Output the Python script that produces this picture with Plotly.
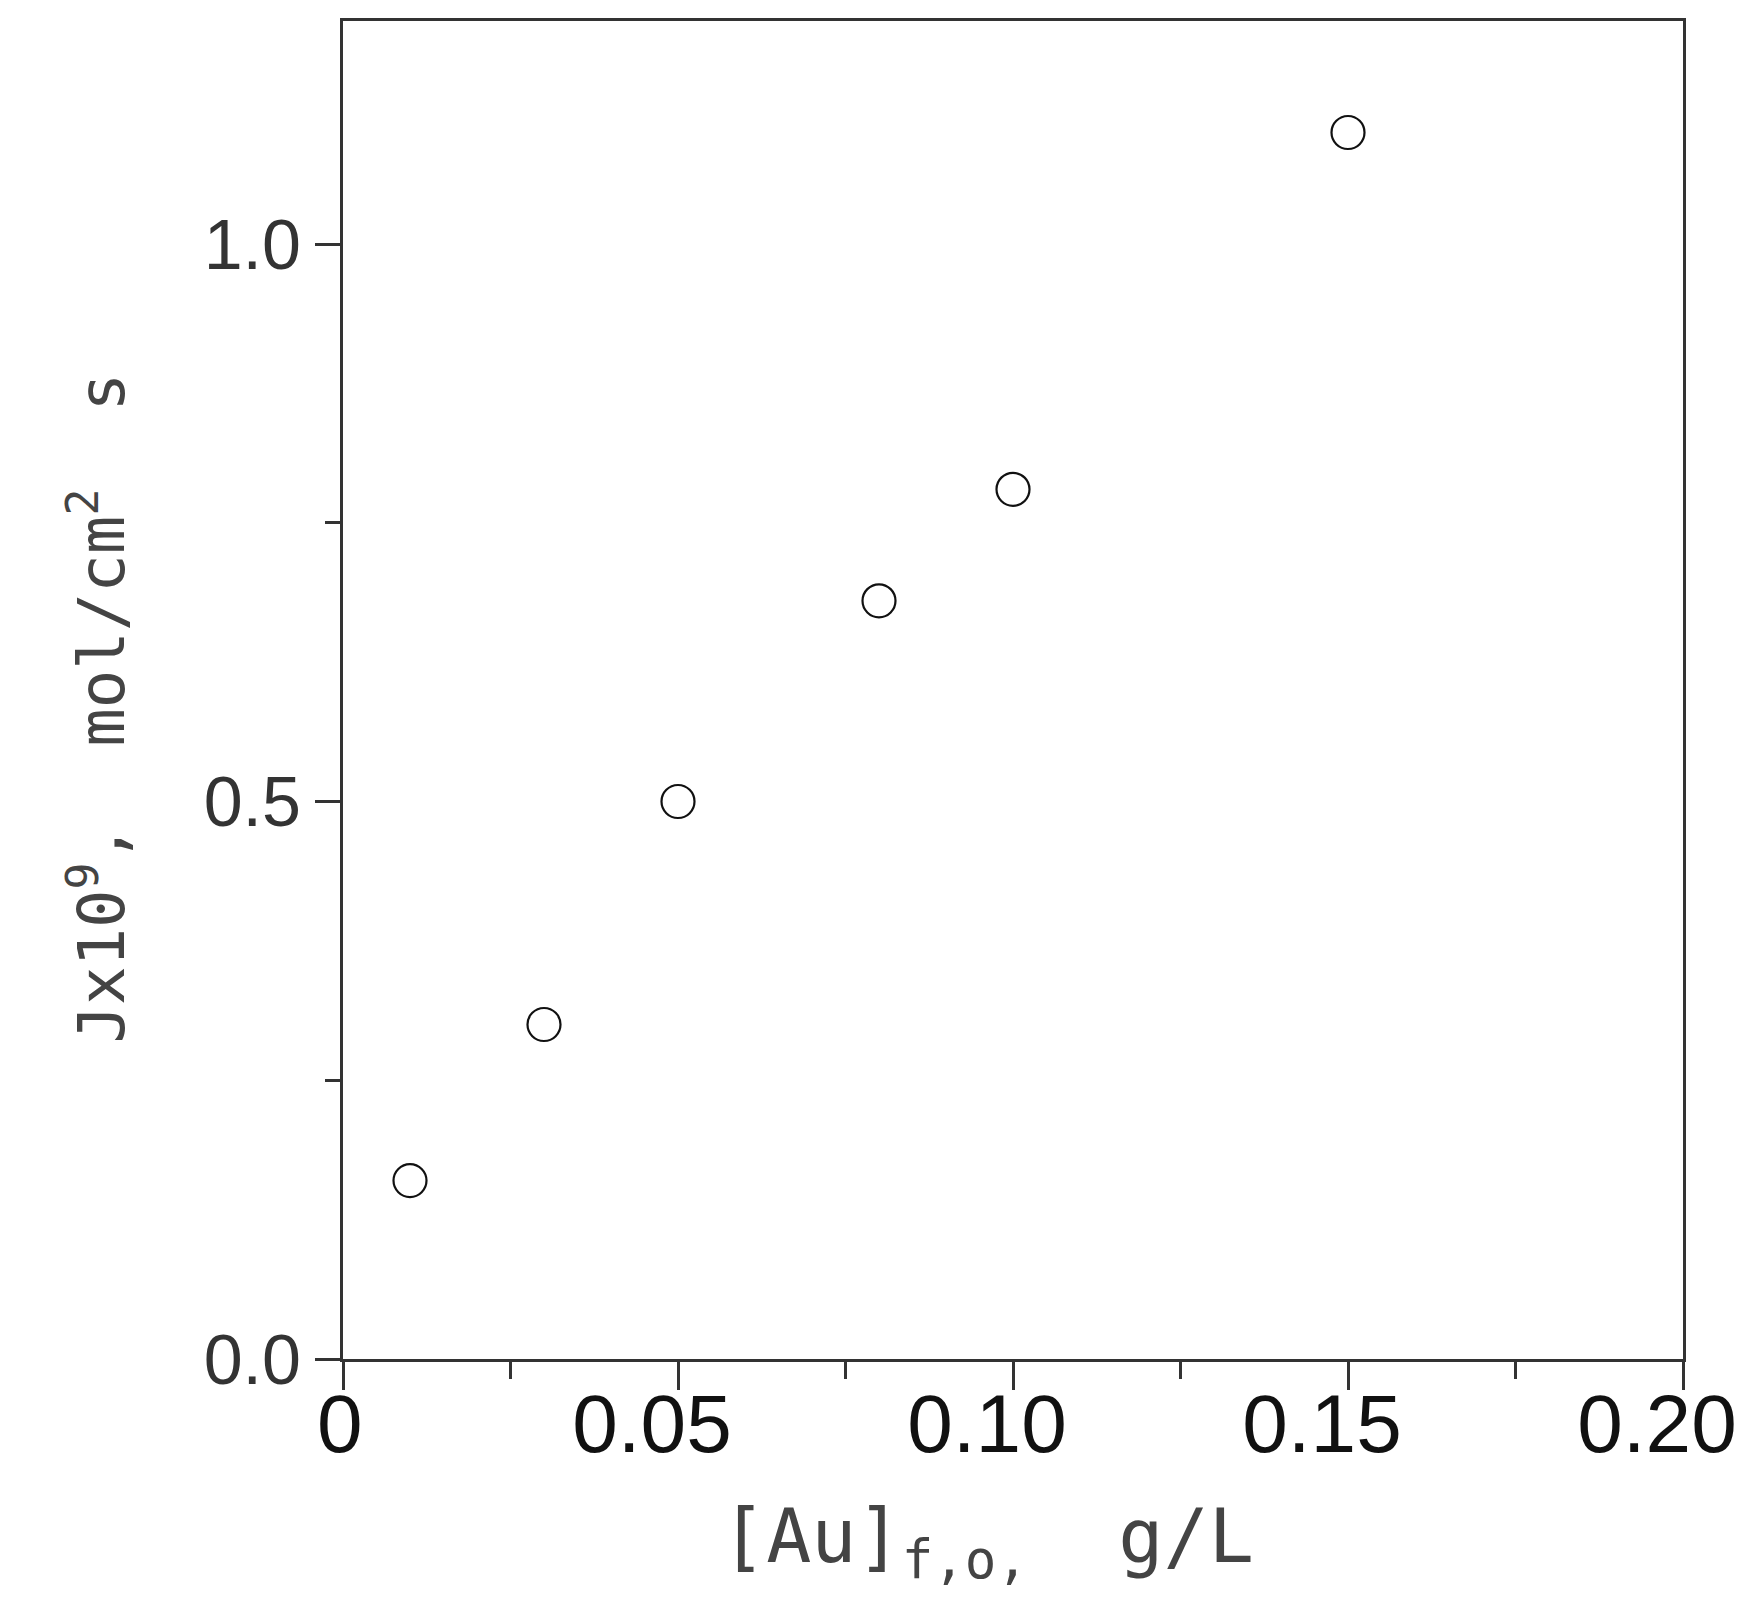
import plotly.graph_objects as go

au_conc = [0.01, 0.03, 0.05, 0.08, 0.10, 0.15]
flux = [0.16, 0.30, 0.50, 0.68, 0.78, 1.10]

x_tickvals = [0, 0.05, 0.10, 0.15, 0.20]
x_ticktext = ["\u00a0\u00a00", "0.05", "0.10", "0.15", "0.20"]
y_tickvals = [0.0, 0.5, 1.0]
y_ticktext = ["0.0", "0.5", "1.0"]

x_title = "[Au]<sub>f,o,</sub>\u00a0\u00a0g/L"
y_title = "Jx10<sup>9</sup>,\u00a0\u00a0mol/cm<sup>2</sup>\u00a0\u00a0s"

fig = go.Figure()
fig.add_trace(go.Scatter(
    x=au_conc, y=flux, mode="markers",
    marker=dict(symbol="circle-open", size=33, color="#111111", line=dict(width=2.2)),
    showlegend=False,
))

sans = "Liberation Sans, Arial, sans-serif"
narrow = "Liberation Sans Narrow, Arial Narrow, Liberation Sans, sans-serif"
mono = "DejaVu Sans Mono, Liberation Mono, monospace"

fig.update_layout(
    width=1745, height=1589,
    margin=dict(l=335, r=70, t=10, b=238),
    plot_bgcolor="white", paper_bgcolor="white",
    font=dict(family=sans, color="#222222"),
    annotations=[
        dict(text=x_title, xref="paper", yref="paper", x=0.4806, y=-0.1357,
             xanchor="center", yanchor="middle", showarrow=False,
             font=dict(family=mono, size=75, color="#444444")),
        dict(text=y_title, xref="paper", yref="paper", x=-0.1828, y=0.4862,
             xanchor="center", yanchor="middle", textangle=-90, showarrow=False,
             font=dict(family=mono, size=64, color="#444444")),
    ],
)
fig.update_xaxes(
    range=[0, 0.20], tickvals=x_tickvals, ticktext=x_ticktext,
    ticks="outside", ticklen=28, tickwidth=3, tickcolor="#333333",
    minor=dict(dtick=0.025, ticks="outside", ticklen=17, tickwidth=3, tickcolor="#333333"),
    showline=True, linewidth=3, linecolor="#333333", mirror=True,
    showgrid=False, zeroline=False,
    tickfont=dict(family=sans, size=82, color="#111111"),
    ticklabelshift=-26, ticklabelstandoff=-36, ticklabeloverflow="allow",
)
fig.update_yaxes(
    range=[0, 1.2], tickvals=y_tickvals, ticktext=y_ticktext,
    ticks="outside", ticklen=25, tickwidth=3, tickcolor="#333333",
    minor=dict(dtick=0.25, ticks="outside", ticklen=15, tickwidth=3, tickcolor="#333333"),
    showline=True, linewidth=3, linecolor="#333333", mirror=True,
    showgrid=False, zeroline=False,
    tickfont=dict(family=narrow, size=70, color="#333333"),
)

fig.write_html("out.html")
